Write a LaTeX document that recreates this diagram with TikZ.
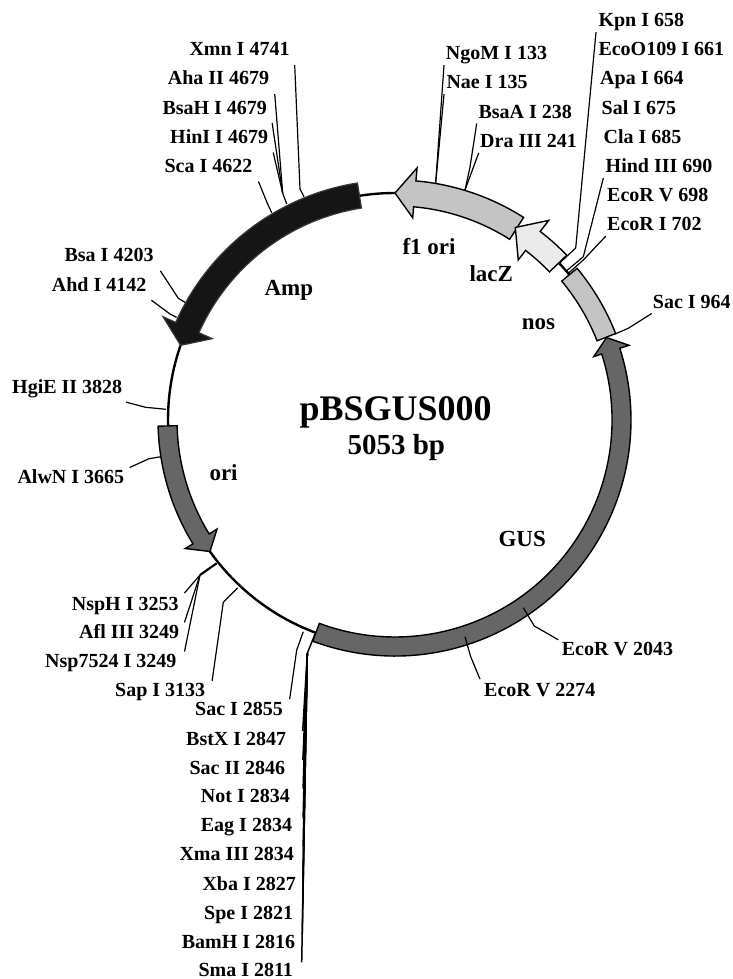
\documentclass[tikz,border=0pt]{standalone}
\usepackage{fontspec}
\setmainfont{Liberation Serif}
\definecolor{lightseg}{HTML}{C4C4C4}
\definecolor{paleseg}{HTML}{EBEBEB}
\definecolor{midseg}{HTML}{666666}
\definecolor{darkseg}{HTML}{151515}
\tikzset{
  sitelabel/.style={anchor=base west,inner sep=0pt,text height=14pt,text depth=4pt,font=\fontsize{20}{24}\selectfont\bfseries},
  genelabel/.style={anchor=base west,inner sep=0pt,font=\fontsize{23}{27}\selectfont\bfseries},
  leader/.style={line width=1.2pt,line join=round},
  stackleader/.style={line width=1.5pt,line join=round},
  geneseg/.style={draw=black,line width=1.4pt,line join=miter}
}
\begin{document}
\begin{tikzpicture}[x=1pt,y=1pt]
  \useasboundingbox (0,0) rectangle (732,-979);
  \coordinate (hub) at (395,-420);
  \begin{scope}[shift={(hub)}]
    \draw[line width=2.4pt] (0,0) circle (227);
    \draw[geneseg,fill=lightseg] (57.6:240) arc[start angle=57.6,end angle=85,radius=240] -- (85:253) -- (90:227) -- (85:203) -- (85:214) arc[start angle=85,end angle=57.6,radius=214] -- cycle;
    \draw[geneseg,fill=paleseg] (43.8:238) arc[start angle=43.8,end angle=52.4,radius=238] -- (52.4:252) -- (58:227) -- (52.4:202) -- (52.4:214) arc[start angle=52.4,end angle=43.8,radius=214] -- cycle;
    \draw[geneseg,fill=lightseg] (39.8:237) arc[start angle=39.8,end angle=21.4,radius=237] -- (21.4:217) arc[start angle=21.4,end angle=39.8,radius=217] -- cycle;
    \draw[draw=darkseg!85!white,line width=1.2pt,fill=darkseg] (99:240) arc[start angle=99,end angle=156,radius=240] -- (156:254) -- (160.8:227) -- (156:200) -- (156:214.6) arc[start angle=156,end angle=99,radius=214.6] -- cycle;
    \draw[geneseg,fill=midseg] (181.5:237) arc[start angle=181.5,end angle=211.5,radius=237] -- (211.5:246) -- (215.4:227) -- (211.5:208.7) -- (211.5:218) arc[start angle=211.5,end angle=181.5,radius=218] -- cycle;
    \draw[geneseg,fill=midseg] (249.6:236) arc[start angle=249.6,end angle=377.7,radius=236] -- (377.7:245.7) -- (381.3:227) -- (377.7:208.7) -- (377.7:217) arc[start angle=377.7,end angle=249.6,radius=217] -- cycle;
  \end{scope}

  \node[genelabel,font=\fontsize{36}{40}\selectfont\bfseries] (plasmid) at (299.3,-420.7) {pBSGUS000};
  \node[genelabel,font=\fontsize{29}{33}\selectfont\bfseries] (size) at (347.3,-454.3) {5053 bp};
  \node[genelabel] (f1ori) at (402.3,-254) {f1 ori};
  \node[genelabel] (lacz) at (469.3,-281.7) {lacZ};
  \node[genelabel] (nos) at (521.7,-329.3) {nos};
  \node[genelabel] (amp) at (264.3,-295) {Amp};
  \node[genelabel] (ori) at (209.3,-480) {ori};
  \node[genelabel] (gus) at (498.3,-546) {GUS};

  \node[sitelabel] (ngom) at (445.7,-60) {NgoM I 133};
  \node[sitelabel] (nae) at (446.3,-89) {Nae I 135};
  \coordinate (ngomring) at (435.7,-182.7);
  \draw[leader] (ngom.south west) ++(-1.7,-1) -- (ngomring);
  \draw[leader] (nae.south west) ++(-2.3,-1) -- (ngomring);

  \node[sitelabel] (bsaa) at (478.3,-118.3) {BsaA I 238};
  \node[sitelabel] (dra) at (480,-147) {Dra III 241};
  \coordinate (bsaaknee) at (470,-167);
  \coordinate (bsaaring) at (465,-190);
  \draw[leader] (bsaa.south west) ++(-1.6,-1) -- (bsaaknee) -- (bsaaring);
  \draw[leader] (dra.south west) ++(-1.3,-1.7) -- (bsaaring);

  \node[sitelabel] (kpn) at (598.3,-27) {Kpn I 658};
  \node[sitelabel] (ecoo) at (598.3,-55.7) {EcoO109 I 661};
  \node[sitelabel] (apa) at (600,-85) {Apa I 664};
  \node[sitelabel] (sal) at (601.5,-114) {Sal I 675};
  \node[sitelabel] (cla) at (603.5,-143) {Cla I 685};
  \node[sitelabel] (hind) at (605.5,-172.7) {Hind III 690};
  \node[sitelabel] (ecorvb) at (607,-201.7) {EcoR V 698};
  \node[sitelabel] (ecori) at (607,-230.7) {EcoR I 702};
  \coordinate (kpnknee) at (575.7,-248);
  \coordinate (kpnring) at (559.3,-263.3);
  \draw[leader] (kpn.south west) ++(-2.3,-1) -- (kpnknee) -- (kpnring);
  \coordinate (hindknee) at (583.3,-256.7);
  \coordinate (hindring) at (566.7,-270.7);
  \draw[leader] (hind.south west) ++(-2.2,-1.3) -- (hindknee) -- (hindring);
  \coordinate (ecoriknee) at (583.3,-260);
  \coordinate (ecoriring) at (569,-272.7);
  \draw[leader] (ecori.south west) ++(-1.3,-1.3) -- (ecoriknee) -- (ecoriring);

  \node[sitelabel] (sacnine) at (652.7,-308.3) {Sac I 964};
  \coordinate (sacnineknee) at (628.3,-328.3);
  \coordinate (sacninering) at (614.3,-334.3);
  \draw[leader] (sacnine.south west) ++(-1,-1) -- (sacnineknee) -- (sacninering);

  \node[sitelabel] (xmn) at (189.3,-56) {Xmn I 4741};
  \coordinate (xmnknee) at (300,-189);
  \coordinate (xmnring) at (304,-196.7);
  \draw[leader] (xmn.south east) ++(5,-5) -- (xmnknee) -- (xmnring);

  \node[sitelabel] (aha) at (167.7,-85) {Aha II 4679};
  \node[sitelabel] (bsah) at (162.3,-114) {BsaH I 4679};
  \node[sitelabel] (hini) at (170,-143.3) {HinI I 4679};
  \coordinate (ahaknee) at (282.7,-193.3);
  \coordinate (aharing) at (286.7,-204);
  \draw[leader] (aha.south east) ++(5.5,-5) -- (ahaknee) -- (aharing);
  \draw[leader] (bsah.south east) ++(5,-5) -- (ahaknee);
  \draw[leader] (hini.south east) ++(5,-5) -- (ahaknee);

  \node[sitelabel] (sca) at (164.3,-172.7) {Sca I 4622};
  \coordinate (scaknee) at (267.3,-203.3);
  \coordinate (scaring) at (271.7,-212.7);
  \draw[leader] (sca.south east) ++(6,-4.6) -- (scaknee) -- (scaring);

  \node[sitelabel] (bsai) at (64.4,-261.7) {Bsa I 4203};
  \coordinate (bsaiknee) at (178.3,-298.3);
  \coordinate (bsairing) at (185,-302.3);
  \draw[leader] (bsai.south east) ++(6.7,-5) -- (bsaiknee) -- (bsairing);

  \node[sitelabel] (ahd) at (51.7,-291) {Ahd I 4142};
  \coordinate (ahdknee) at (170,-314);
  \coordinate (ahdring) at (176.7,-317.3);
  \draw[leader] (ahd.south east) ++(4.8,-5) -- (ahdknee) -- (ahdring);

  \node[sitelabel] (hgie) at (12,-393.3) {HgiE II 3828};
  \coordinate (hgieknee) at (145.7,-407.3);
  \coordinate (hgiering) at (166,-409.3);
  \draw[leader] (hgie.south east) ++(3.7,-4.7) -- (hgieknee) -- (hgiering);

  \node[sitelabel] (alwn) at (17.3,-483.3) {AlwN I 3665};
  \coordinate (alwnknee) at (149,-458.7);
  \coordinate (alwnring) at (161,-456.7);
  \draw[leader] (alwn.north east) ++(5.3,1.6) -- (alwnknee) -- (alwnring);

  \node[sitelabel] (nsph) at (71.7,-610) {NspH I 3253};
  \node[sitelabel] (afl) at (79,-638.3) {Afl III 3249};
  \node[sitelabel] (nsp) at (45,-667.3) {Nsp7524 I 3249};
  \coordinate (nspknee) at (200,-575);
  \coordinate (nspring) at (216.7,-563.3);
  \draw[leader] (nsph.north east) ++(5.6,2.7) -- (nspknee);
  \draw[line width=2.2pt] (nspknee) -- (nspring);
  \draw[leader] (afl.north east) ++(5,1.6) -- (nspknee);
  \draw[leader] (nsp.north east) ++(8,1.6) -- (nspknee);

  \node[sitelabel] (sap) at (115,-696.7) {Sap I 3133};
  \coordinate (sapknee) at (223.3,-602.3);
  \coordinate (sapring) at (237.7,-587.7);
  \draw[leader] (sap.north east) ++(6.7,1.7) -- (sapknee) -- (sapring);

  \node[sitelabel] (ecorva) at (561.7,-655.7) {EcoR V 2043};
  \coordinate (ecorvaknee) at (534.3,-626);
  \coordinate (ecorvaring) at (523.3,-607.7);
  \draw[leader] (ecorva.north west) ++(-3.4,1.7) -- (ecorvaknee) -- (ecorvaring);

  \node[sitelabel] (ecorvc) at (484,-696) {EcoR V 2274};
  \coordinate (ecorvcknee) at (470.7,-656.7);
  \coordinate (ecorvcring) at (465,-636.7);
  \draw[leader] (ecorvc.north west) ++(-4,2.7) -- (ecorvcknee) -- (ecorvcring);

  \node[sitelabel] (sacb) at (195,-715.7) {Sac I 2855};
  \coordinate (sacbknee) at (296.7,-650);
  \coordinate (sacbring) at (303.3,-631.7);
  \draw[leader] (sacb.north east) ++(6.5,2.4) -- (sacbknee) -- (sacbring);

  \node[sitelabel] (bstx) at (186,-745) {BstX I 2847};
  \node[sitelabel] (sacii) at (189.3,-774) {Sac II 2846};
  \node[sitelabel] (noti) at (200.7,-802.7) {Not I 2834};
  \node[sitelabel] (eag) at (200.7,-831.7) {Eag I 2834};
  \node[sitelabel] (xma) at (179.3,-860.7) {Xma III 2834};
  \node[sitelabel] (xba) at (202.3,-890) {Xba I 2827};
  \node[sitelabel] (spe) at (204,-919.3) {Spe I 2821};
  \node[sitelabel] (bamh) at (181.7,-948.3) {BamH I 2816};
  \node[sitelabel,text depth=0pt] (sma) at (198.3,-976.5) {Sma I 2811};
  \coordinate (stackfoot) at (301.7,-963);
  \coordinate (stackknee) at (307.3,-653.3);
  \coordinate (stackring) at (315,-634);
  \draw[stackleader] (stackfoot |- sma.north) -- (stackknee) -- (stackring);
  \draw[stackleader] (stackfoot |- bamh.north) ++(0.6,0) -- (stackknee);
  \draw[stackleader] (stackfoot |- spe.north) ++(1,0) -- (stackknee);
  \draw[stackleader] (stackfoot |- xba.north) ++(1.2,0) -- (stackknee);
  \draw[stackleader] (stackfoot |- xma.north) ++(1.4,0) -- (stackknee);
  \draw[stackleader] (stackfoot |- eag.north) ++(1.4,0) -- (stackknee);
  \draw[stackleader] (stackfoot |- noti.north) ++(1.4,0) -- (stackknee);
  \draw[stackleader] (stackfoot |- sacii.north) ++(1.2,0) -- (stackknee);
  \draw[stackleader] (stackfoot |- bstx.north) ++(1,0) -- (stackknee);
\end{tikzpicture}
\end{document}
